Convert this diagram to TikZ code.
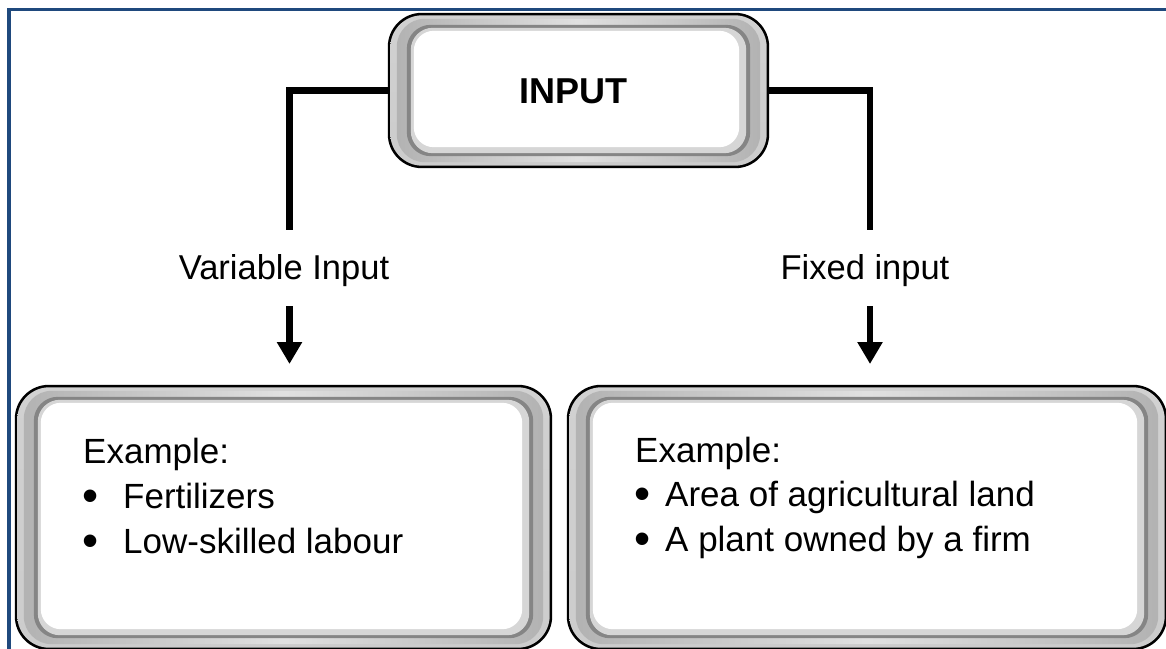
\documentclass[tikz,border=0pt]{standalone}
\usepackage{fontspec}
\setmainfont{Liberation Sans}
\usetikzlibrary{arrows.meta}
\definecolor{framecol}{RGB}{31,73,125}
\tikzset{
  boxnode/.style={draw=none, inner sep=0pt, rectangle},
  conn/.style={line width=6.5pt, black},
  arr/.style={line width=6.5pt, black, -{Triangle[width=24pt,length=22pt]}},
  lab/.style={font=\fontsize{34.5}{40}\selectfont, anchor=base, inner sep=0pt},
  txt/.style={font=\fontsize{35}{42}\selectfont, anchor=base west, inner sep=0pt},
  bul/.style={font=\fontsize{46}{50}\selectfont, anchor=base west, inner sep=0pt},
  ttl/.style={font=\fontsize{36}{42}\selectfont\bfseries, anchor=base, inner sep=0pt},
}
\newcommand\bevelbox[1]{%
  \fill[black, rounded corners=34pt] (#1.north west) rectangle (#1.south east);
  \shade[top color=black!18, middle color=black!58, bottom color=black!20, rounded corners=32pt]
    ([shift={(2.5,2.5)}]#1.north west) rectangle ([shift={(-2.5,-2.5)}]#1.south east);
  \shade[left color=black!30, right color=black!30, middle color=black!12, rounded corners=28pt]
    ([shift={(9,6)}]#1.north west) rectangle ([shift={(-9,-6)}]#1.south east);
  \fill[black!48, rounded corners=24pt]
    ([shift={(19,12)}]#1.north west) rectangle ([shift={(-19,-12)}]#1.south east);
  \fill[black!16, rounded corners=22pt]
    ([shift={(23,15)}]#1.north west) rectangle ([shift={(-23,-15)}]#1.south east);
  \fill[white, rounded corners=20pt]
    ([shift={(26,18)}]#1.north west) rectangle ([shift={(-30,-21)}]#1.south east);
}
\begin{document}
\begin{tikzpicture}[x=1pt,y=-1pt]
\useasboundingbox (0,0) rectangle (1166,648);
\fill[white] (0,0) rectangle (1166,648);

% box nodes (geometry only)
\node[boxnode, minimum width=381pt, minimum height=155pt] (input) at (578.5,90.5) {};
\node[boxnode, minimum width=537pt, minimum height=265pt] (vbox) at (283.5,517.5) {};
\node[boxnode, minimum width=600pt, minimum height=265pt] (fbox) at (867,517.5) {};

% connectors
\coordinate (lv) at (289.5,230);
\coordinate (rv) at (870,230);
\draw[conn] (input.west) -| (lv);
\draw[conn] (input.east) -| (rv);

% labels
\node[lab] (varlab) at (284,279) {Variable Input};
\node[lab] (fixlab) at (865,279) {Fixed input};

% arrows
\coordinate (va1) at (289.5,306);
\coordinate (va2) at (289.5,364);
\coordinate (fa1) at (870,306);
\coordinate (fa2) at (870,364);
\draw[arr] (va1) -- (va2);
\draw[arr] (fa1) -- (fa2);

% bevelled boxes
\bevelbox{input}
\bevelbox{vbox}
\bevelbox{fbox}

% frame
\draw[framecol, line width=3.5pt] (1170,9.5) -- (9,9.5) -- (9,652);

% texts
\node[ttl] (inputtxt) at (573.5,103.5) {INPUT};

\node[txt] (vex) at (83,463) {Example:};
\node[bul] (vb1) at (82,511) {•};
\node[txt] (vt1) at (123,508) {Fertilizers};
\node[bul] (vb2) at (82,556) {•};
\node[txt] (vt2) at (123,553) {Low-skilled labour};

\node[txt] (fex) at (635,462) {Example:};
\node[bul] (fb1) at (634,509) {•};
\node[txt] (ft1) at (665,506) {Area of agricultural land};
\node[bul] (fb2) at (634,554) {•};
\node[txt] (ft2) at (665,551) {A plant owned by a firm};
\end{tikzpicture}
\end{document}
